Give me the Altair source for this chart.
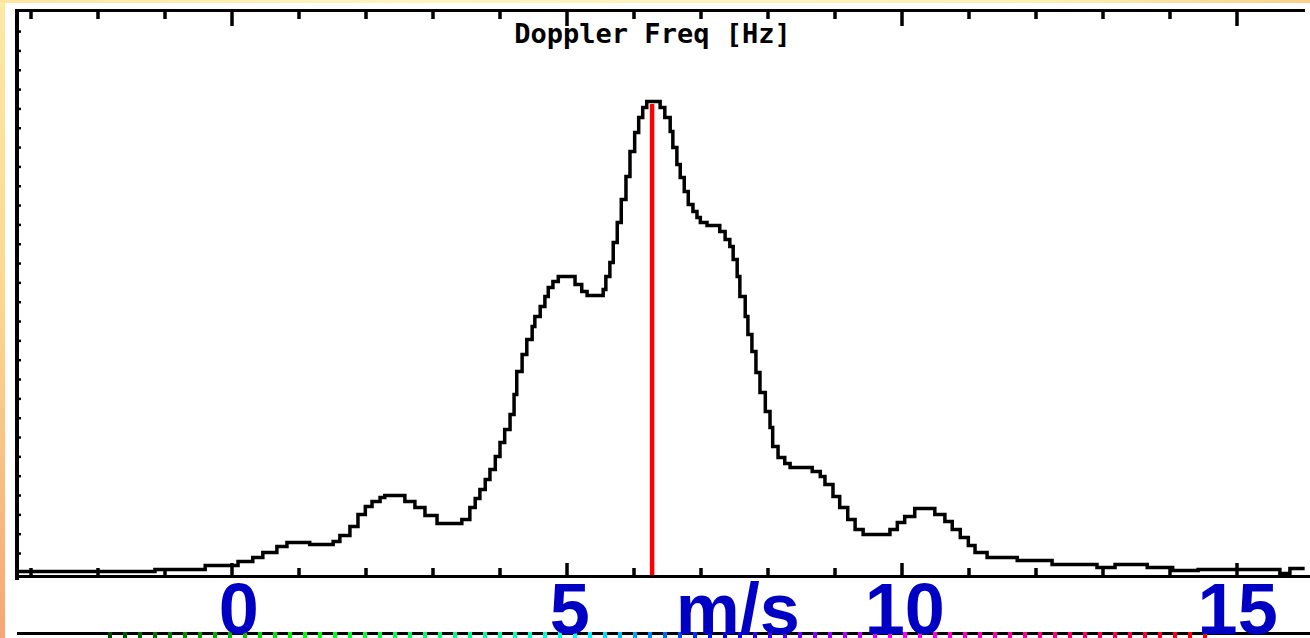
import altair as alt
import pandas as pd

# ---- data ----
velocity = [-3.19, -1.15, -0.40, 0.09, 0.31, 0.46, 0.67, 0.82, 1.16, 1.51,
            1.61, 1.76, 1.88, 1.99, 2.09, 2.21, 2.28, 2.46, 2.58, 2.73,
            2.88, 3.06, 3.36, 3.43, 3.55, 3.63, 3.70, 3.78, 3.85, 3.93,
            4.00, 4.07, 4.15, 4.21, 4.25, 4.33, 4.40, 4.48, 4.52, 4.60,
            4.67, 4.72, 4.79, 4.87, 5.09, 5.12, 5.22, 5.30, 5.49, 5.54,
            5.58, 5.64, 5.69, 5.75, 5.81, 5.88, 5.94, 6.01, 6.07, 6.13,
            6.19, 6.36, 6.39, 6.46, 6.54, 6.58, 6.64, 6.69, 6.75, 6.81,
            6.88, 6.94, 6.99, 7.09, 7.24, 7.28, 7.36, 7.43, 7.48, 7.54,
            7.58, 7.66, 7.70, 7.76, 7.82, 7.88, 7.96, 8.03, 8.07, 8.15,
            8.25, 8.33, 8.58, 8.66, 8.78, 8.85, 8.97, 9.07, 9.19, 9.30,
            9.42, 9.72, 9.82, 9.93, 10.04, 10.19, 10.42, 10.49, 10.64, 10.75,
            10.87, 10.99, 11.09, 11.27, 11.72, 12.24, 12.91, 13.18, 13.66, 14.04,
            14.42, 15.64, 15.79, 16.01]
power = [4.5, 6.5, 10.5, 14.5, 18.5, 23.5, 29.5, 33.5, 31.5, 34.5,
         40.5, 49.5, 61.5, 69.5, 74.5, 78.5, 80.5, 80.5, 74.5, 68.5,
         60.5, 52.5, 52.5, 56.5, 68.5, 77.5, 86.5, 96.5, 106.5, 119.5,
         133.5, 146.5, 161.5, 181.5, 204.5, 221.5, 236.5, 249.5, 259.5, 269.5,
         279.5, 288.5, 294.5, 299.5, 299.5, 291.5, 284.5, 280.5, 280.5, 286.5,
         299.5, 313.5, 333.5, 353.5, 376.5, 399.5, 424.5, 443.5, 458.5, 468.5,
         474.5, 474.5, 468.5, 458.5, 444.5, 428.5, 411.5, 398.5, 384.5, 371.5,
         364.5, 358.5, 353.5, 350.5, 350.5, 344.5, 336.5, 329.5, 316.5, 299.5,
         279.5, 259.5, 241.5, 224.5, 203.5, 183.5, 164.5, 148.5, 129.5, 118.5,
         112.5, 108.5, 108.5, 104.5, 99.5, 91.5, 79.5, 68.5, 56.5, 46.5,
         41.5, 41.5, 46.5, 53.5, 59.5, 67.5, 67.5, 61.5, 54.5, 46.5,
         38.5, 30.5, 23.5, 18.5, 15.5, 11.5, 8.5, 11.5, 8.5, 5.5,
         6.5, 2.5, 7.5, 7.5]

peak_velocity = [6.27]
peak_power = [472]

tick_minor = [-3, -2, -1, 1, 2, 3, 4, 6, 7, 8, 9, 11, 12, 13, 14]
tick_major = [0, 5, 10, 15]
label_pos = [0.10, 5.04, 7.55, 10.04, 15.01]
label_text = ["0", "5", "m/s", "10", "15"]
ytick_vals = [22.5 + 19.33 * k for k in range(28)]
title_text = "Doppler Freq [Hz]"

# ---- layout ----
W, H = 1288, 566
xs = alt.Scale(domain=[-3.209, 16.015], nice=False, zero=False)
ys = alt.Scale(domain=[0, 566], nice=False, zero=False)

def grad(stops, vertical):
    return alt.Gradient(
        gradient="linear",
        stops=[alt.GradientStop(color=c, offset=o) for o, c in stops],
        x1=0, y1=0, x2=0 if vertical else 1, y2=1 if vertical else 0,
    )

bg_left = alt.Chart().mark_rect(
    fill=grad([(0, "#FDE9A2"), (0.45, "#FCD98F"), (0.75, "#F9BF80"), (1, "#F7A673")], True)
).encode(x=alt.value(-17), x2=alt.value(-12), y=alt.value(-10), y2=alt.value(H + 62))

bg_top = alt.Chart().mark_rect(
    fill=grad([(0, "#FDE5A0"), (0.3, "#FEF6BE"), (0.8, "#FDF0B3"), (1, "#F9D08A")], False)
).encode(x=alt.value(-17), x2=alt.value(W + 5), y=alt.value(-10), y2=alt.value(-7))

# colour-bar strip peeking at the bottom
cb_black = alt.Chart().mark_rule(color="black", strokeWidth=3).encode(
    x=alt.value(0), x2=alt.value(W + 5), y=alt.value(623.5))
cb_grad = alt.Chart().mark_rect(
    fill=grad([(0, "#004000"), (0.18, "#00FF00"), (0.32, "#00FF80"), (0.44, "#00FFFF"),
               (0.56, "#0000FF"), (0.64, "#8000FF"), (0.72, "#FF00FF"), (1, "#FF0000")], False)
).encode(x=alt.value(80), x2=alt.value(1193), y=alt.value(622), y2=alt.value(628))
cb_mask_black = alt.Chart().mark_rule(color="black", strokeWidth=3, strokeDash=[11, 4]).encode(
    x=alt.value(80), x2=alt.value(1193), y=alt.value(623.5))
cb_mask_white = alt.Chart().mark_rule(color="white", strokeWidth=3, strokeDash=[11, 4]).encode(
    x=alt.value(80), x2=alt.value(1193), y=alt.value(626.5))

df = pd.DataFrame({"v": velocity, "p": power})
spectrum = alt.Chart(df).mark_line(
    color="black", strokeWidth=3.5, interpolate="step-after", strokeJoin="miter"
).encode(
    x=alt.X("v:Q", scale=xs, axis=None),
    y=alt.Y("p:Q", scale=ys, axis=None),
)

peak = alt.Chart(pd.DataFrame({"v": peak_velocity, "p0": [0], "p": peak_power})).mark_rule(
    color="#FF0000", strokeWidth=4.5
).encode(
    x=alt.X("v:Q", scale=xs, axis=None),
    y=alt.Y("p0:Q", scale=ys, axis=None),
    y2="p:Q",
)

frame_top = alt.Chart().mark_rule(color="black", strokeWidth=3).encode(
    x=alt.value(0), x2=alt.value(W), y=alt.value(0.5))
frame_left = alt.Chart().mark_rule(color="black", strokeWidth=4).encode(
    x=alt.value(0), y=alt.value(-1), y2=alt.value(H + 4))
frame_bottom = alt.Chart().mark_rule(color="black", strokeWidth=3).encode(
    x=alt.value(0), x2=alt.value(W + 5), y=alt.value(H + 0.5))

def ticks(vals, y1, y2):
    return alt.Chart(pd.DataFrame({"v": vals})).mark_rule(color="black", strokeWidth=3.5).encode(
        x=alt.X("v:Q", scale=xs, axis=None), y=alt.value(y1), y2=alt.value(y2))

top_minor = ticks(tick_minor, 1, 9)
top_major = ticks(tick_major, 1, 16)
bot_minor = ticks(tick_minor, 558, 566)
bot_major = ticks(tick_major, 553, 566)

y_ticks = alt.Chart(pd.DataFrame({"h": ytick_vals})).mark_rule(color="black", strokeWidth=2.5).encode(
    y=alt.Y("h:Q", scale=ys, axis=None), x=alt.value(0), x2=alt.value(4))

title = alt.Chart().mark_text(
    text=title_text, font="DejaVu Sans Mono", fontSize=27, fontWeight="bold",
    align="center", baseline="alphabetic", color="black"
).encode(x=alt.value(635.5), y=alt.value(33))

labels = alt.Chart(pd.DataFrame({"pos": label_pos, "txt": label_text})).mark_text(
    font="Liberation Sans", fontSize=72, fontWeight="bold", color="#0000C4",
    align="center", baseline="alphabetic"
).encode(
    x=alt.X("pos:Q", scale=xs, axis=None), y=alt.value(624), text="txt:N")

chart = alt.layer(
    bg_left, bg_top, cb_black, cb_grad, cb_mask_black, cb_mask_white,
    spectrum, peak, frame_top, frame_left, frame_bottom,
    top_minor, top_major, bot_minor, bot_major, y_ticks, title, labels,
).properties(
    width=W, height=H,
    padding={"left": 17, "top": 10, "right": 5, "bottom": 62},
    autosize=alt.AutoSizeParams(type="none"),
    background="white",
).configure_view(stroke=None)

chart.save("out.html", embed_options={"renderer": "svg", "actions": False})
